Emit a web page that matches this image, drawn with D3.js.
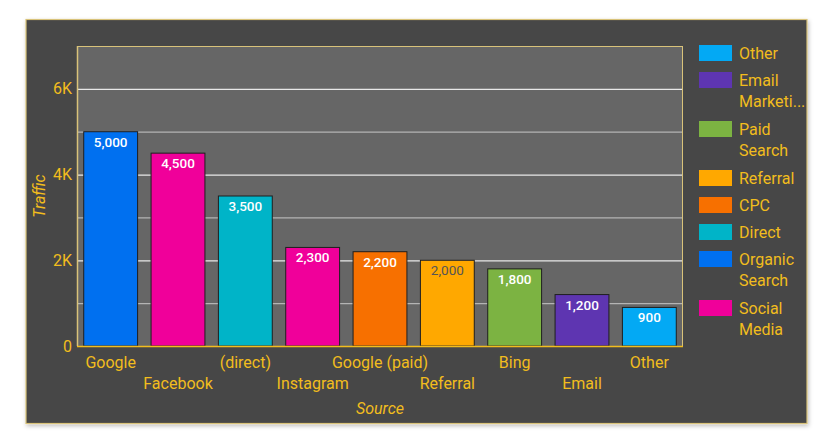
<!DOCTYPE html>
<html>
<head>
<meta charset="utf-8">
<script src="https://cdn.jsdelivr.net/npm/d3@7"></script>
<style>
  body { margin: 0; background: #fff; }
  svg { font-family: Roboto, "Noto Sans", sans-serif; }
</style>
</head>
<body>
<div id="chart-area"></div>
<script>
// data
var sources = ["Google", "Facebook", "(direct)", "Instagram", "Google (paid)", "Referral", "Bing", "Email", "Other"];
var traffic = [5000, 4500, 3500, 2300, 2200, 2000, 1800, 1200, 900];
var channels = ["Organic Search", "Social Media", "Direct", "Social Media", "CPC", "Referral", "Paid Search", "Email Marketing", "Other"];

var legendNames = ["Other", "Email Marketing", "Paid Search", "Referral", "CPC", "Direct", "Organic Search", "Social Media"];
var legendLines = [["Other"], ["Email", "Marketi..."], ["Paid", "Search"], ["Referral"], ["CPC"], ["Direct"], ["Organic", "Search"], ["Social", "Media"]];
var legendColors = ["#03a9f4", "#5e35b1", "#7cb342", "#ffa800", "#f77000", "#00b4c8", "#0070f0", "#f0009a"];
var yTicks = [0, 2000, 4000, 6000];

var gold = "#f2bd1d";
var W = 832, H = 438;
var plot = { left: 77, top: 46, right: 683, bottom: 346 };

var svg = d3.select("#chart-area").append("svg")
	.attr("width", W)
	.attr("height", H);

// outer panel with soft shadow
var defs = svg.append("defs");
var f = defs.append("filter").attr("id", "shadow").attr("x", "-5%").attr("y", "-5%").attr("width", "110%").attr("height", "110%");
f.append("feDropShadow").attr("dx", 1).attr("dy", 2).attr("stdDeviation", 2).attr("flood-color", "#000").attr("flood-opacity", 0.25);

svg.append("rect")
	.attr("x", 26).attr("y", 19.5)
	.attr("width", 781).attr("height", 404)
	.attr("fill", "#474747")
	.attr("stroke", "#d9c37a")
	.attr("stroke-width", 1.2)
	.attr("filter", "url(#shadow)");

var color = d3.scaleOrdinal().domain(legendNames).range(legendColors);

var x = d3.scaleBand()
	.domain(sources)
	.range([plot.left, plot.right])
	.paddingInner(0.2)
	.paddingOuter(0.1);

var y = d3.scaleLinear()
	.domain([0, 7000])
	.range([plot.bottom, plot.top]);

// plot background
svg.append("rect")
	.attr("x", plot.left).attr("y", plot.top)
	.attr("width", plot.right - plot.left).attr("height", plot.bottom - plot.top)
	.attr("fill", "#666666");

// grid
svg.append("g").selectAll("line")
	.data(d3.range(1000, 7000, 1000))
	.enter().append("line")
		.attr("x1", plot.left).attr("x2", plot.right)
		.attr("y1", function(d){ return y(d) + 0.5; })
		.attr("y2", function(d){ return y(d) + 0.5; })
		.attr("stroke", function(d){ return d % 2000 == 0 ? "#e8e8e8" : "#b4b4b4"; })
		.attr("stroke-width", 1.2);

// plot border
svg.append("rect")
	.attr("x", plot.left + 0.5).attr("y", plot.top + 0.5)
	.attr("width", plot.right - plot.left - 1).attr("height", plot.bottom - plot.top)
	.attr("fill", "none")
	.attr("stroke", "#d9c37a")
	.attr("stroke-width", 1);

// bars
var bars = svg.append("g").selectAll("rect")
	.data(traffic);

bars.enter()
	.append("rect")
		.attr("x", function(d, i){ return x(sources[i]); })
		.attr("y", function(d){ return y(d); })
		.attr("width", x.bandwidth())
		.attr("height", function(d){ return y(0) - y(d); })
		.attr("fill", function(d, i){ return color(channels[i]); })
		.attr("stroke", "#1e1e1e")
		.attr("stroke-width", 1);

svg.append("g").selectAll("text")
	.data(traffic)
	.enter().append("text")
		.attr("x", function(d, i){ return x(sources[i]) + x.bandwidth() / 2; })
		.attr("y", function(d){ return y(d) + 15; })
		.attr("text-anchor", "middle")
		.attr("font-size", 13.5)
		.attr("font-weight", function(d, i){ return channels[i] == "Referral" ? 400 : 500; })
		.attr("fill", function(d, i){ return channels[i] == "Referral" ? "#555" : "#fff"; })
		.text(function(d){ return d3.format(",")(d); });

// bottom axis line
svg.append("line")
	.attr("x1", plot.left).attr("x2", plot.right)
	.attr("y1", plot.bottom + 0.5).attr("y2", plot.bottom + 0.5)
	.attr("stroke", gold).attr("stroke-width", 1.5);
svg.append("line")
	.attr("x1", plot.left + 0.5).attr("x2", plot.left + 0.5)
	.attr("y1", plot.top).attr("y2", plot.bottom)
	.attr("stroke", "#d9c37a").attr("stroke-width", 1.5);

// x labels, staggered
svg.append("g").selectAll("text")
	.data(sources)
	.enter().append("text")
		.attr("x", function(d){ return x(d) + x.bandwidth() / 2; })
		.attr("y", function(d, i){ return i % 2 == 0 ? 368 : 389; })
		.attr("text-anchor", "middle")
		.attr("font-size", 16)
		.attr("fill", gold)
		.text(function(d){ return d; });

// y ticks
svg.append("g").selectAll("text")
	.data(yTicks)
	.enter().append("text")
		.attr("x", 72)
		.attr("y", function(d){ return y(d) + 5.5; })
		.attr("text-anchor", "end")
		.attr("font-size", 16)
		.attr("fill", gold)
		.text(function(d){ return d == 0 ? "0" : (d / 1000) + "K"; });

// axis titles
svg.append("text")
	.attr("x", (plot.left + plot.right) / 2)
	.attr("y", 414)
	.attr("text-anchor", "middle")
	.attr("font-size", 16)
	.attr("font-style", "italic")
	.attr("fill", gold)
	.text("Source");

svg.append("text")
	.attr("transform", "translate(45," + ((plot.top + plot.bottom) / 2) + ") rotate(-90)")
	.attr("text-anchor", "middle")
	.attr("font-size", 16)
	.attr("font-style", "italic")
	.attr("fill", gold)
	.text("Traffic");

// legend
var legendY = 45;
var leg = svg.append("g");
legendNames.forEach(function(name, i){
	leg.append("rect")
		.attr("x", 699).attr("y", legendY)
		.attr("width", 33).attr("height", 16)
		.attr("fill", color(name));
	legendLines[i].forEach(function(line, j){
		leg.append("text")
			.attr("x", 739)
			.attr("y", legendY + 13.5 + j * 21.5)
			.attr("font-size", 16)
			.attr("fill", gold)
			.text(line);
	});
	legendY += 27 + (legendLines[i].length - 1) * 22;
});
</script>
</body>
</html>
